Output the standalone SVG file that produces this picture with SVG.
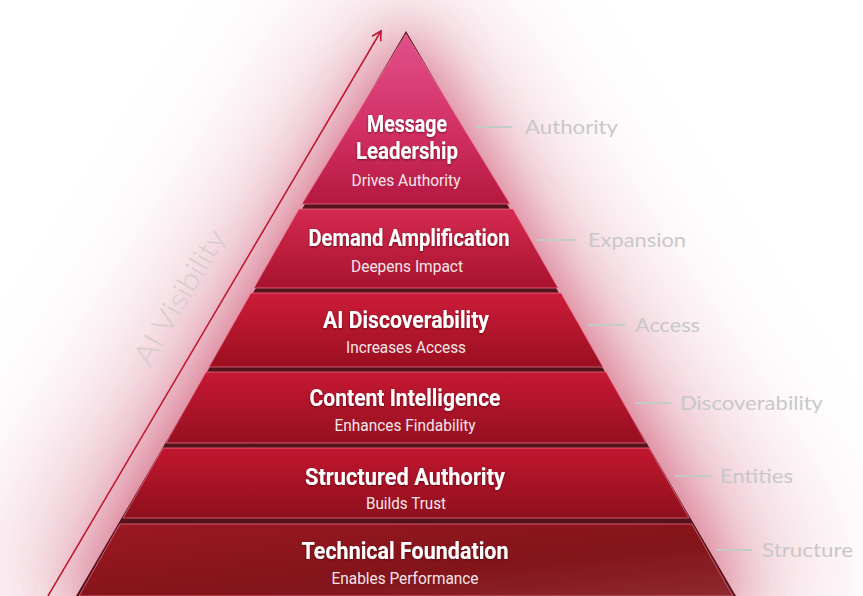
<svg xmlns="http://www.w3.org/2000/svg" width="863" height="596" viewBox="0 0 863 596">
<defs>
<filter id="glow" x="-50%" y="-50%" width="200%" height="200%"><feGaussianBlur stdDeviation="70"/></filter>
<filter id="glow2" x="-50%" y="-50%" width="200%" height="200%"><feGaussianBlur stdDeviation="28"/></filter>
<filter id="ts" x="-10%" y="-30%" width="120%" height="160%"><feDropShadow dx="0" dy="1" stdDeviation="1" flood-color="#3a0008" flood-opacity="0.6"/></filter>
<linearGradient id="g1" x1="0" y1="0" x2="0" y2="1"><stop offset="0" stop-color="#e2508a"/><stop offset="0.6" stop-color="#d02e62"/><stop offset="1" stop-color="#b41840"/></linearGradient>
<linearGradient id="g2" x1="0" y1="0" x2="0" y2="1"><stop offset="0" stop-color="#d42a50"/><stop offset="1" stop-color="#a8132e"/></linearGradient>
<linearGradient id="g3" x1="0" y1="0" x2="0" y2="1"><stop offset="0" stop-color="#cc1c3a"/><stop offset="1" stop-color="#9a0f20"/></linearGradient>
<linearGradient id="g4" x1="0" y1="0" x2="0" y2="1"><stop offset="0" stop-color="#c61834"/><stop offset="1" stop-color="#951020"/></linearGradient>
<linearGradient id="g5" x1="0" y1="0" x2="0" y2="1"><stop offset="0" stop-color="#c21630"/><stop offset="1" stop-color="#8e101c"/></linearGradient>
<linearGradient id="g6" x1="0" y1="0" x2="1" y2="1"><stop offset="0" stop-color="#9c1822"/><stop offset="0.6" stop-color="#82141a"/><stop offset="1" stop-color="#8e2a2e"/></linearGradient>
<marker id="ah" viewBox="0 0 12 12" refX="10" refY="6" markerWidth="12" markerHeight="12" markerUnits="userSpaceOnUse" orient="auto"><path d="M1,1 L10,6 L1,11" fill="none" stroke="#c0142c" stroke-width="1.6"/></marker>
</defs>
<style>
.tier{stroke:#f27896;stroke-width:1;stroke-opacity:0.7}
.t{font-family:Roboto,"Liberation Sans",sans-serif;font-weight:700;font-size:23px;fill:#ffffff;text-anchor:middle}
.s{font-family:Roboto,"Liberation Sans",sans-serif;font-weight:400;font-size:16px;fill:#f6e6ea;text-anchor:middle}
.lab{font-family:Lato,"Liberation Sans",sans-serif;font-size:19px;fill:#c8c8c8}
.ln{stroke:#c3cbca;stroke-width:2}
</style>
<rect width="863" height="596" fill="#ffffff"/>
<polygon points="400,-20 820,620 -10,620" fill="#d26a84" opacity="0.55" filter="url(#glow)"/>
<polygon points="406,20 750,610 62,610" fill="#c8385c" opacity="0.55" filter="url(#glow2)"/>
<polygon points="406,31 736,596 76,596" fill="#561219"/>

<g id="connectors">
<line x1="48" y1="596" x2="381" y2="31" stroke="#c0142c" stroke-width="1.5" marker-end="url(#ah)"/>
<line class="ln" x1="476" y1="127" x2="512" y2="127"/>
<line class="ln" x1="538" y1="240" x2="575" y2="240"/>
<line class="ln" x1="588" y1="325" x2="625" y2="325"/>
<line class="ln" x1="635" y1="403" x2="671" y2="403"/>
<line class="ln" x1="675" y1="476" x2="712" y2="476"/>
<line class="ln" x1="716" y1="550" x2="752" y2="550"/>
</g>

<text transform="translate(188,302) rotate(-59.5)" text-anchor="middle" font-family="Lato,'Liberation Sans',sans-serif" font-size="29" font-weight="300" fill="#d6ccce" textLength="152" lengthAdjust="spacingAndGlyphs">AI Visibility</text>

<g id="tier1">
<polygon class="tier" points="406,34 510,204 302,204" fill="url(#g1)"/>
<text class="t" x="407" y="132" filter="url(#ts)" textLength="80" lengthAdjust="spacingAndGlyphs">Message</text>
<text class="t" x="407" y="159" filter="url(#ts)" textLength="102" lengthAdjust="spacingAndGlyphs">Leadership</text>
<text class="s" x="406" y="186" textLength="109" lengthAdjust="spacingAndGlyphs">Drives Authority</text>
</g>
<g id="tier2">
<polygon class="tier" points="299,209 513,209 558,288 254,288" fill="url(#g2)"/>
<text class="t" x="409" y="246" filter="url(#ts)" textLength="201" lengthAdjust="spacingAndGlyphs">Demand Amplification</text>
<text class="s" x="407" y="272" textLength="112" lengthAdjust="spacingAndGlyphs">Deepens Impact</text>
</g>
<g id="tier3">
<polygon class="tier" points="251,293 561,293 603,367 209,367" fill="url(#g3)"/>
<text class="t" x="406" y="328" filter="url(#ts)" textLength="166" lengthAdjust="spacingAndGlyphs">AI Discoverability</text>
<text class="s" x="406" y="353" textLength="120" lengthAdjust="spacingAndGlyphs">Increases Access</text>
</g>
<g id="tier4">
<polygon class="tier" points="206,372 606,372 646,443 166,443" fill="url(#g4)"/>
<text class="t" x="405" y="406" filter="url(#ts)" textLength="191" lengthAdjust="spacingAndGlyphs">Content Intelligence</text>
<text class="s" x="405" y="431" textLength="141" lengthAdjust="spacingAndGlyphs">Enhances Findability</text>
</g>
<g id="tier5">
<polygon class="tier" points="163,448 649,448 689,518 123,518" fill="url(#g5)"/>
<text class="t" x="405" y="485" filter="url(#ts)" textLength="200" lengthAdjust="spacingAndGlyphs">Structured Authority</text>
<text class="s" x="406" y="509" textLength="80" lengthAdjust="spacingAndGlyphs">Builds Trust</text>
</g>
<g id="tier6">
<polygon class="tier" points="120,524 692,524 733,596 79,596" fill="url(#g6)"/>
<text class="t" x="405" y="559" filter="url(#ts)" textLength="207" lengthAdjust="spacingAndGlyphs">Technical Foundation</text>
<text class="s" x="405" y="584" textLength="147" lengthAdjust="spacingAndGlyphs">Enables Performance</text>
</g>

<g id="labels">
<text class="lab" x="525" y="134" textLength="93" lengthAdjust="spacingAndGlyphs">Authority</text>
<text class="lab" x="588" y="247" textLength="98" lengthAdjust="spacingAndGlyphs">Expansion</text>
<text class="lab" x="635" y="332" textLength="65" lengthAdjust="spacingAndGlyphs">Access</text>
<text class="lab" x="680" y="410" textLength="143" lengthAdjust="spacingAndGlyphs">Discoverability</text>
<text class="lab" x="720" y="483" textLength="73" lengthAdjust="spacingAndGlyphs">Entities</text>
<text class="lab" x="762" y="557" textLength="91" lengthAdjust="spacingAndGlyphs">Structure</text>
</g>
</svg>
